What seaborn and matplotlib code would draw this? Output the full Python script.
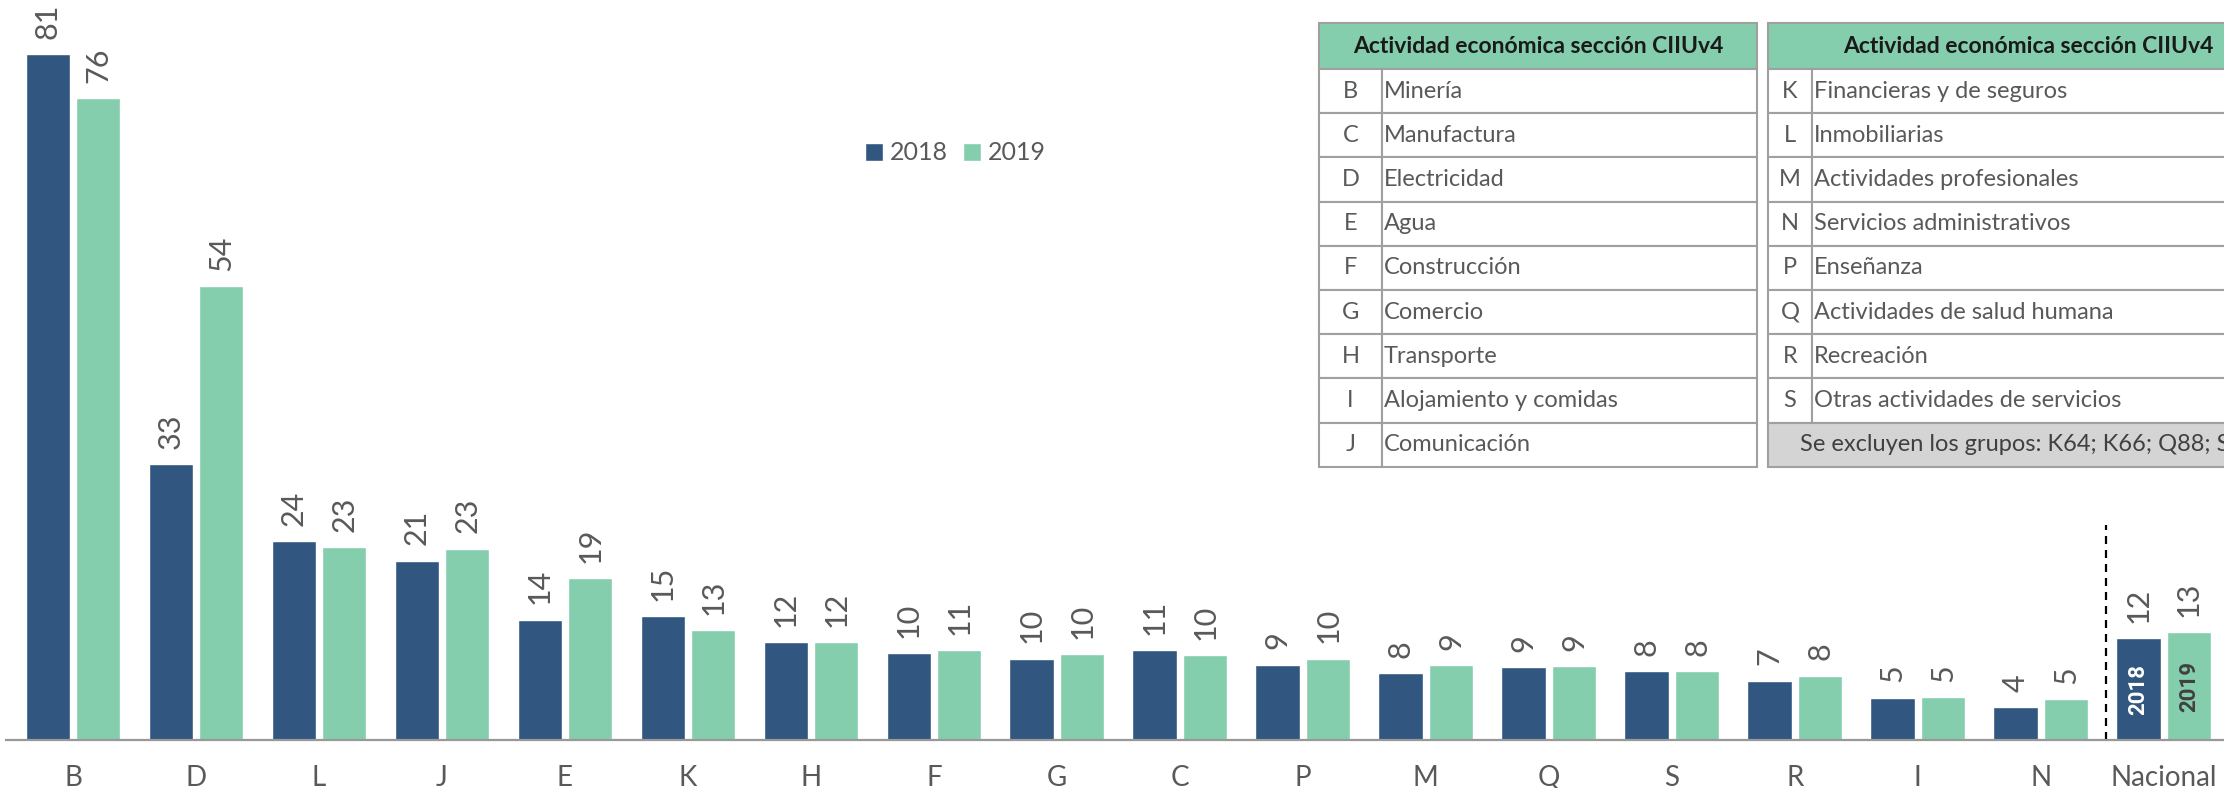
import matplotlib
matplotlib.use("Agg")
import matplotlib.pyplot as plt
import pandas as pd
import seaborn as sns
from matplotlib.patches import Patch, Rectangle

#
# Data
#
sectores = ["B", "D", "L", "J", "E", "K", "H", "F", "G", "C",
            "P", "M", "Q", "S", "R", "I", "N", "Nacional"]
valores_2018 = [81.0, 32.6, 23.5, 21.2, 14.2, 14.6, 11.6, 10.3, 9.6, 10.6,
                8.9, 7.9, 8.6, 8.1, 7.0, 5.0, 3.9, 12.0]
valores_2019 = [75.8, 53.6, 22.8, 22.6, 19.1, 13.0, 11.6, 10.6, 10.1, 10.0,
                9.6, 8.8, 8.7, 8.1, 7.6, 5.1, 4.8, 12.7]
anios = ["2018", "2019"]

encabezado = "Actividad económica sección CIIUv4"
tabla_izq_codigos = ["B", "C", "D", "E", "F", "G", "H", "I", "J"]
tabla_izq_nombres = ["Minería", "Manufactura", "Electricidad", "Agua",
                     "Construcción", "Comercio", "Transporte",
                     "Alojamiento y comidas", "Comunicación"]
tabla_der_codigos = ["K", "L", "M", "N", "P", "Q", "R", "S"]
tabla_der_nombres = ["Financieras y de seguros", "Inmobiliarias",
                     "Actividades profesionales", "Servicios administrativos",
                     "Enseñanza", "Actividades de salud humana", "Recreación",
                     "Otras actividades de servicios"]
nota_exclusion = "Se excluyen los grupos: K64; K66; Q88; S94"

AZUL = "#31567F"
VERDE = "#84CEAD"
GRIS_TXT = "#595959"
BORDE = "#A0A0A0"

df = pd.DataFrame({
    "sector": sectores * 2,
    "valor": valores_2018 + valores_2019,
    "anio": [anios[0]] * len(sectores) + [anios[1]] * len(sectores),
})

sns.set_theme(style="white")
plt.rcParams["font.family"] = ["Lato", "DejaVu Sans"]

W, H = 2224, 788
fig = plt.figure(figsize=(W / 100, H / 100), dpi=100)
ax = fig.add_axes([6 / W, (H - 740) / H, 1 - 6 / W, 740 / H])

sns.barplot(
    data=df, x="sector", y="valor", hue="anio",
    palette=[AZUL, VERDE], saturation=1,
    width=0.82, gap=0.12, legend=False, ax=ax,
)

#
# Value labels
#
for cont, vals in zip(ax.containers, [valores_2018, valores_2019]):
    ax.bar_label(
        cont, labels=[f"{v:.0f}" for v in vals],
        rotation=90, padding=11, fontsize=22, color=GRIS_TXT,
    )

#
# Year inside the "Nacional" bars
#
for cont, anio, col in zip(ax.containers, anios, ["white", "#404040"]):
    bar = cont.patches[-1]
    ax.text(
        bar.get_x() + bar.get_width() / 2, bar.get_height() / 2, anio,
        rotation=90, ha="center", va="center", fontsize=16,
        fontweight="bold", color=col, family=["Roboto", "DejaVu Sans"],
    )

# separator before the national total
ax.vlines(16.53, 0, 25.4, colors="black", linewidth=1.6,
          linestyles=(0, (3.6, 2.7)))

ax.set_xlim(-0.545, 17.49)
ax.set_ylim(0, 87.4)
ax.set_xlabel("")
ax.set_ylabel("")
ax.set_yticks([])
for s in ["top", "left", "right"]:
    ax.spines[s].set_visible(False)
ax.spines["bottom"].set_color("#999999")
ax.spines["bottom"].set_linewidth(1.6)
ax.tick_params(axis="x", length=0, pad=18, labelsize=20, labelcolor=GRIS_TXT)

#
# Legend
#
handles = [Patch(facecolor=AZUL), Patch(facecolor=VERDE)]
fig.legend(
    handles, anios, loc="center left",
    bbox_to_anchor=(842 / W, 1 - 153 / H), ncol=2, frameon=False,
    handlelength=0.75, handleheight=0.75, handletextpad=0.25,
    columnspacing=0.6, fontsize=18, labelcolor=GRIS_TXT,
)

#
# Tables (drawn in pixel coordinates on an overlay axes)
#
ov = fig.add_axes([0, 0, 1, 1], zorder=5)
ov.set_xlim(0, W)
ov.set_ylim(H, 0)
ov.axis("off")
ov.patch.set_alpha(0)

TOP, H_HEAD, H_ROW = 23, 46, 44.2


def draw_table(x0, ancho, ancho_cod, codigos, nombres, nota=None):
    ov.add_patch(Rectangle((x0, TOP), ancho, H_HEAD, facecolor=VERDE,
                           edgecolor=BORDE, linewidth=1.5))
    ov.text(x0 + ancho / 2, TOP + H_HEAD / 2, encabezado, ha="center",
            va="center", fontsize=16.5, fontweight="bold", color="#1a1a1a")
    for i, (c, n) in enumerate(zip(codigos, nombres)):
        y = TOP + H_HEAD + i * H_ROW
        ov.add_patch(Rectangle((x0, y), ancho_cod, H_ROW, facecolor="white",
                               edgecolor=BORDE, linewidth=1.5))
        ov.add_patch(Rectangle((x0 + ancho_cod, y), ancho - ancho_cod, H_ROW,
                               facecolor="white", edgecolor=BORDE,
                               linewidth=1.5))
        ov.text(x0 + ancho_cod / 2, y + H_ROW / 2, c, ha="center",
                va="center", fontsize=17, color=GRIS_TXT)
        ov.text(x0 + ancho_cod + 2, y + H_ROW / 2, n, ha="left",
                va="center", fontsize=17, color=GRIS_TXT)
    if nota:
        y = TOP + H_HEAD + len(codigos) * H_ROW
        ov.add_patch(Rectangle((x0, y), ancho, H_ROW, facecolor="#D4D4D4",
                               edgecolor=BORDE, linewidth=1.5))
        ov.text(x0 + ancho / 2, y + H_ROW / 2, nota, ha="center",
                va="center", fontsize=17, color="#404040")


draw_table(1319, 438, 63, tabla_izq_codigos, tabla_izq_nombres)
draw_table(1768, 520, 44, tabla_der_codigos, tabla_der_nombres,
           nota=nota_exclusion)

fig.savefig("out.png", dpi=100)
plt.close(fig)
